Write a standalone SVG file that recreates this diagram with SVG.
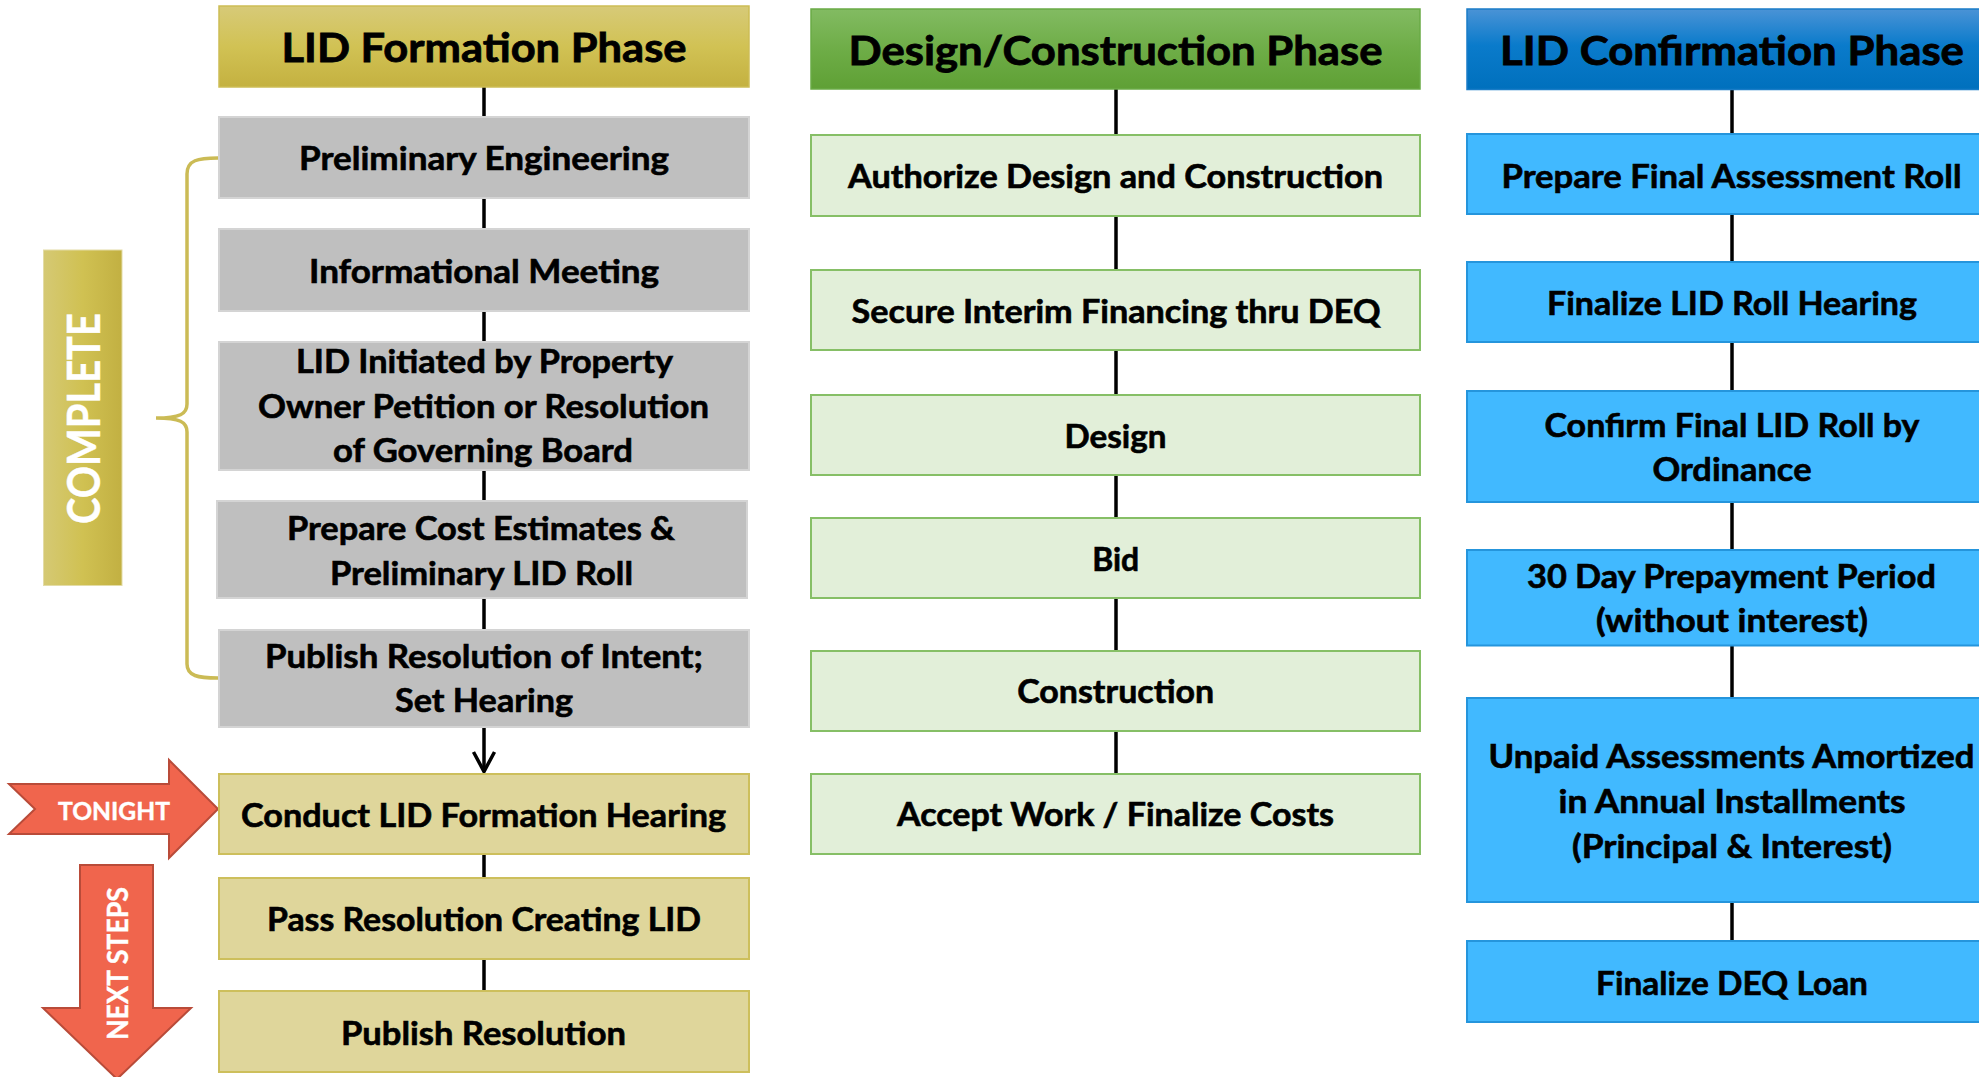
<svg xmlns="http://www.w3.org/2000/svg" width="1979" height="1077" viewBox="0 0 1979 1077">
<style>
.t{font-family:Lato,"Open Sans","Liberation Sans",sans-serif;font-weight:700;font-size:32px;text-anchor:middle;fill:#000;stroke:#000;stroke-width:0.6px}
.h{font-size:41px;stroke-width:0.8px}
.w{fill:#fff;stroke:#fff;stroke-width:0.4px}
.gray{fill:#BFBFBF;stroke:#D4D4D4;stroke-width:2}
.yel{fill:#DFD69B;stroke:#CDBF5C;stroke-width:2}
.grn{fill:#E2EFD9;stroke:#86BF66;stroke-width:2}
.blu{fill:#41B9FF;stroke:#2595DC;stroke-width:2}
.conn line,.conn path{stroke:#000;stroke-width:3.5;fill:none}
.red{fill:#F0654D;stroke:#B94B39;stroke-width:2}
</style>
<defs>
<linearGradient id="goldV" x1="0" y1="0" x2="0" y2="1">
<stop offset="0" stop-color="#D7CA78"/><stop offset="0.5" stop-color="#D1C254"/><stop offset="1" stop-color="#C4B140"/>
</linearGradient>
<linearGradient id="goldH" x1="0" y1="0" x2="1" y2="0">
<stop offset="0" stop-color="#D5C974"/><stop offset="0.5" stop-color="#D0C152"/><stop offset="1" stop-color="#C2B042"/>
</linearGradient>
<linearGradient id="greenV" x1="0" y1="0" x2="0" y2="1">
<stop offset="0" stop-color="#82BB62"/><stop offset="0.5" stop-color="#6EAD47"/><stop offset="1" stop-color="#5FA035"/>
</linearGradient>
<linearGradient id="blueV" x1="0" y1="0" x2="0" y2="1">
<stop offset="0" stop-color="#4A93D6"/><stop offset="0.45" stop-color="#0A7BCB"/><stop offset="1" stop-color="#0070BD"/>
</linearGradient>
</defs>
<rect width="1979" height="1077" fill="#fff"/>

<g id="connectors" class="conn">
<line x1="484" y1="87" x2="484" y2="117"/>
<line x1="484" y1="198" x2="484" y2="229"/>
<line x1="484" y1="311" x2="484" y2="342"/>
<line x1="484" y1="470" x2="484" y2="501"/>
<line x1="484" y1="598" x2="484" y2="630"/>
<path d="M484,727 L484,770"/>
<path d="M473.5,752 L484,771.5 L494.5,752"/>
<line x1="484" y1="854" x2="484" y2="878"/>
<line x1="484" y1="959" x2="484" y2="991"/>
<line x1="1116" y1="89" x2="1116" y2="135"/>
<line x1="1116" y1="216" x2="1116" y2="270"/>
<line x1="1116" y1="350" x2="1116" y2="395"/>
<line x1="1116" y1="475" x2="1116" y2="518"/>
<line x1="1116" y1="598" x2="1116" y2="651"/>
<line x1="1116" y1="731" x2="1116" y2="774"/>
<line x1="1732" y1="89" x2="1732" y2="134"/>
<line x1="1732" y1="214" x2="1732" y2="262"/>
<line x1="1732" y1="342" x2="1732" y2="391"/>
<line x1="1732" y1="502" x2="1732" y2="550"/>
<line x1="1732" y1="645" x2="1732" y2="698"/>
<line x1="1732" y1="902" x2="1732" y2="941"/>
</g>

<g id="complete-brace">
<path d="M218,158 C198,158 187,160 187,174 L187,404 C187,414 180,418 156,418 C180,418 187,422 187,432 L187,664 C187,676 198,678 218,678" fill="none" stroke="#CBBB55" stroke-width="3.5"/>
</g>

<g id="complete">
<rect x="43.5" y="250" width="78.5" height="335.5" fill="url(#goldH)" stroke="#E3DCA6" stroke-width="1"/>
<text class="t w" transform="translate(99.5,418.5) rotate(-90)" style="font-size:45px" textLength="211" lengthAdjust="spacingAndGlyphs">COMPLETE</text>
</g>

<g id="tonight">
<polygon class="red" points="9,784 169,784 169,760 218,809 169,858 169,834 9,834 35,809"/>
<text class="t w" x="114" y="820" style="font-size:25.5px" textLength="112" lengthAdjust="spacingAndGlyphs">TONIGHT</text>
</g>

<g id="next-steps">
<polygon class="red" points="80,865 153,865 153,1008 191,1008 117,1079 43,1008 80,1008"/>
<text class="t w" transform="translate(128,963.5) rotate(-90)" style="font-size:29px" textLength="153" lengthAdjust="spacingAndGlyphs">NEXT STEPS</text>
</g>

<g id="lid-formation-phase">
<rect x="219" y="6" width="530" height="81" fill="url(#goldV)" stroke="#CDBD55" stroke-width="1.5"/>
<text class="t h" x="484" y="62" textLength="405" lengthAdjust="spacingAndGlyphs">LID Formation Phase</text>
</g>
<g id="preliminary-engineering">
<rect class="gray" x="219" y="117" width="530" height="81"/>
<text class="t" x="484" y="170" textLength="370" lengthAdjust="spacingAndGlyphs">Preliminary Engineering</text>
</g>
<g id="informational-meeting">
<rect class="gray" x="219" y="229" width="530" height="82"/>
<text class="t" x="484" y="283" textLength="350" lengthAdjust="spacingAndGlyphs">Informational Meeting</text>
</g>
<g id="lid-initiated">
<rect class="gray" x="219" y="342" width="530" height="128"/>
<text class="t" x="484.5" y="373" textLength="377" lengthAdjust="spacingAndGlyphs">LID Initiated by Property</text>
<text class="t" x="483.5" y="418" textLength="451" lengthAdjust="spacingAndGlyphs">Owner Petition or Resolution</text>
<text class="t" x="483" y="462" textLength="300" lengthAdjust="spacingAndGlyphs">of Governing Board</text>
</g>
<g id="prepare-cost-estimates">
<rect class="gray" x="217" y="501" width="530" height="97"/>
<text class="t" x="481" y="540" textLength="388" lengthAdjust="spacingAndGlyphs">Prepare Cost Estimates &amp;</text>
<text class="t" x="481.5" y="585" textLength="303" lengthAdjust="spacingAndGlyphs">Preliminary LID Roll</text>
</g>
<g id="publish-resolution-of-intent">
<rect class="gray" x="219" y="630" width="530" height="97"/>
<text class="t" x="484" y="668" textLength="438" lengthAdjust="spacingAndGlyphs">Publish Resolution of Intent;</text>
<text class="t" x="484" y="712" textLength="178" lengthAdjust="spacingAndGlyphs">Set Hearing</text>
</g>
<g id="conduct-hearing">
<rect class="yel" x="219" y="774" width="530" height="80"/>
<text class="t" x="483.5" y="827" textLength="485" lengthAdjust="spacingAndGlyphs">Conduct LID Formation Hearing</text>
</g>
<g id="pass-resolution">
<rect class="yel" x="219" y="878" width="530" height="81"/>
<text class="t" x="484" y="931" textLength="434" lengthAdjust="spacingAndGlyphs">Pass Resolution Creating LID</text>
</g>
<g id="publish-resolution">
<rect class="yel" x="219" y="991" width="530" height="81"/>
<text class="t" x="483.5" y="1045" textLength="285" lengthAdjust="spacingAndGlyphs">Publish Resolution</text>
</g>

<g id="design-construction-phase">
<rect x="811" y="9" width="609" height="80" fill="url(#greenV)" stroke="#6AAB46" stroke-width="1.5"/>
<text class="t h" x="1115.5" y="65" textLength="534" lengthAdjust="spacingAndGlyphs">Design/Construction Phase</text>
</g>
<g id="authorize">
<rect class="grn" x="811" y="135" width="609" height="81"/>
<text class="t" x="1115.5" y="188" textLength="535" lengthAdjust="spacingAndGlyphs">Authorize Design and Construction</text>
</g>
<g id="secure-financing">
<rect class="grn" x="811" y="270" width="609" height="80"/>
<text class="t" x="1116" y="323" textLength="529" lengthAdjust="spacingAndGlyphs">Secure Interim Financing thru DEQ</text>
</g>
<g id="design">
<rect class="grn" x="811" y="395" width="609" height="80"/>
<text class="t" x="1115.5" y="448" textLength="102" lengthAdjust="spacingAndGlyphs">Design</text>
</g>
<g id="bid">
<rect class="grn" x="811" y="518" width="609" height="80"/>
<text class="t" x="1115.7" y="571" textLength="47" lengthAdjust="spacingAndGlyphs">Bid</text>
</g>
<g id="construction">
<rect class="grn" x="811" y="651" width="609" height="80"/>
<text class="t" x="1115.7" y="703" textLength="197" lengthAdjust="spacingAndGlyphs">Construction</text>
</g>
<g id="accept-work">
<rect class="grn" x="811" y="774" width="609" height="80"/>
<text class="t" x="1115.5" y="826" textLength="437" lengthAdjust="spacingAndGlyphs">Accept Work / Finalize Costs</text>
</g>

<g id="lid-confirmation-phase">
<rect x="1467" y="9" width="530" height="80.5" fill="url(#blueV)" stroke="#1A7CC7" stroke-width="1.5"/>
<text class="t h" x="1732" y="65" textLength="464" lengthAdjust="spacingAndGlyphs">LID Confirmation Phase</text>
</g>
<g id="prepare-final-roll">
<rect class="blu" x="1467" y="134" width="530" height="80"/>
<text class="t" x="1731.5" y="188" textLength="460" lengthAdjust="spacingAndGlyphs">Prepare Final Assessment Roll</text>
</g>
<g id="finalize-roll-hearing">
<rect class="blu" x="1467" y="262" width="530" height="80"/>
<text class="t" x="1732" y="315" textLength="370" lengthAdjust="spacingAndGlyphs">Finalize LID Roll Hearing</text>
</g>
<g id="confirm-final-roll">
<rect class="blu" x="1467" y="391" width="530" height="111"/>
<text class="t" x="1732" y="437" textLength="375" lengthAdjust="spacingAndGlyphs">Confirm Final LID Roll by</text>
<text class="t" x="1732" y="481" textLength="159" lengthAdjust="spacingAndGlyphs">Ordinance</text>
</g>
<g id="prepayment-period">
<rect class="blu" x="1467" y="550" width="530" height="95.5"/>
<text class="t" x="1731.5" y="588" textLength="409" lengthAdjust="spacingAndGlyphs">30 Day Prepayment Period</text>
<text class="t" x="1732" y="632" textLength="272" lengthAdjust="spacingAndGlyphs">(without interest)</text>
</g>
<g id="unpaid-assessments">
<rect class="blu" x="1467" y="698" width="530" height="204"/>
<text class="t" x="1731.5" y="768" textLength="486" lengthAdjust="spacingAndGlyphs">Unpaid Assessments Amortized</text>
<text class="t" x="1732" y="813" textLength="347" lengthAdjust="spacingAndGlyphs">in Annual Installments</text>
<text class="t" x="1732" y="858" textLength="320" lengthAdjust="spacingAndGlyphs">(Principal &amp; Interest)</text>
</g>
<g id="finalize-deq-loan">
<rect class="blu" x="1467" y="941" width="530" height="81"/>
<text class="t" x="1732" y="995" textLength="272" lengthAdjust="spacingAndGlyphs">Finalize DEQ Loan</text>
</g>
</svg>
